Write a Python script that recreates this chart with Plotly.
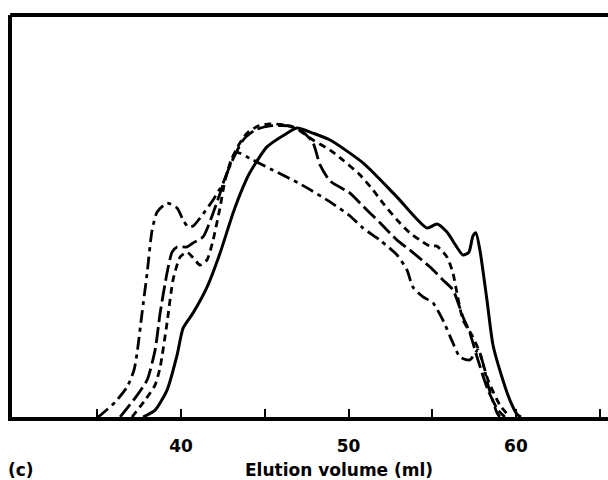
import plotly.graph_objects as go

# Elution profiles: elution volume (ml) vs. relative detector response
vol_solid = [37.73, 38.45, 39.16, 39.76, 40.12, 40.72, 41.55, 42.33, 43.10, 43.70, 44.12, 45.13,
             46.33, 46.93, 47.88, 48.90, 50.87, 52.90, 54.69, 55.28, 55.88, 56.84, 57.19, 57.43,
             57.61, 57.85, 58.27, 58.63, 59.22, 59.64, 60.06, 60.3]
resp_solid = [0, 1.7, 6.7, 15.4, 22.1, 25.9, 32.3, 40.8, 50.7, 57.2, 60.9, 67.2,
              70.6, 71.9, 70.6, 68.9, 63.2, 54.7, 47.0, 48.0, 46.0, 40.3, 41.0, 45.0,
              45.8, 41.5, 29.1, 17.9, 9.2, 4.2, 0.7, 0]

vol_dash = [37.07, 37.85, 38.45, 38.75, 39.16, 39.52, 39.94, 40.36, 40.72, 41.13, 41.55, 41.91,
            42.33, 42.63, 42.99, 43.52, 43.94, 44.6, 45.31, 46.21, 46.93, 47.88, 48.90, 49.67,
            50.69, 51.46, 52.06, 52.90, 53.67, 54.27, 54.87, 55.28, 55.88, 56.24, 56.48, 56.84,
            57.43, 57.85, 58.33, 59.04, 59.64]
resp_dash = [0, 4.2, 8.0, 12.4, 23.4, 34.1, 39.8, 41.0, 39.6, 37.8, 39.1, 44.0,
             52.2, 59.0, 63.9, 68.2, 70.6, 72.4, 72.9, 72.6, 71.6, 68.9, 66.4, 63.9,
             60.2, 56.5, 53.2, 49.0, 45.8, 44.0, 42.5, 42.5, 39.8, 35.8, 30.8, 24.1,
             19.9, 15.9, 9.2, 3.0, 0]

vol_longdash = [36.36, 37.25, 37.97, 38.45, 38.75, 39.16, 39.46, 39.76, 40.36, 40.72, 41.31, 41.91,
                42.33, 42.81, 43.22, 43.70, 44.42, 45.31, 46.51, 47.22, 47.88, 48.30, 48.90, 50.09,
                50.69, 51.88, 52.90, 53.67, 54.87, 55.64, 56.24, 56.84, 57.25, 57.73, 58.33, 58.93,
                59.34]
resp_longdash = [0, 4.7, 9.2, 16.7, 25.9, 35.8, 41.0, 42.3, 42.3, 43.3, 44.8, 50.7,
                 55.7, 61.4, 65.2, 68.9, 71.4, 72.4, 72.4, 71.1, 68.2, 62.7, 58.7, 55.7,
                 53.2, 48.3, 44.0, 41.5, 37.3, 34.1, 31.6, 24.9, 20.9, 14.2, 6.7, 1.7,
                 0]

vol_dashdot = [35.04, 35.34, 36.06, 36.78, 37.19, 37.37, 37.67, 37.97, 38.27, 38.57, 39.16, 39.76,
               40.12, 40.42, 40.72, 41.13, 41.91, 42.51, 43.04, 43.28, 44.30, 45.49, 47.10, 48.90,
               50.09, 50.87, 51.88, 52.90, 53.49, 53.85, 54.45, 55.04, 55.64, 56.24, 56.66, 57.25,
               57.73, 58.03, 58.33, 58.87, 59.04]
resp_dashdot = [0, 1.0, 3.7, 7.5, 11.7, 15.9, 25.9, 35.8, 46.5, 51.0, 53.2, 52.0,
                49.0, 47.3, 47.5, 49.5, 54.0, 58.2, 63.9, 65.9, 63.9, 61.4, 58.0, 53.5,
                50.0, 47.0, 44.0, 40.3, 36.6, 32.3, 29.9, 28.4, 24.1, 18.4, 14.9, 14.2,
                16.7, 13.4, 8.0, 1.0, 0]

tick_vals = [35, 40, 45, 50, 55, 60, 65]
tick_text = ["", "40", "", "50", "", "60", ""]

x_title = "Elution volume (ml)"
panel_label = "(c)"

label_font = dict(family="DejaVu Sans", size=17, color="black", weight="bold")

fig = go.Figure()

traces = [
    (vol_dashdot, resp_dashdot, "13px,5px,4px,5px", 2.8),
    (vol_longdash, resp_longdash, "16px,5px", 2.8),
    (vol_dash, resp_dash, "7px,5px", 2.8),
    (vol_solid, resp_solid, "solid", 3.0),
]
for xs, ys, dash, w in traces:
    fig.add_trace(go.Scatter(
        x=xs, y=ys, mode="lines",
        line=dict(color="black", width=w, dash=dash, shape="spline", smoothing=0.6),
        showlegend=False, hoverinfo="skip",
    ))

fig.update_layout(
    width=608, height=480,
    margin=dict(l=12, r=0, t=15, b=63),
    paper_bgcolor="white", plot_bgcolor="white",
    font=label_font,
    xaxis=dict(
        range=[29.9, 65.5], showgrid=False, zeroline=False,
        showline=True, linecolor="black", linewidth=4,
        tickmode="array", tickvals=tick_vals, ticktext=tick_text,
        ticks="inside", ticklen=8, tickwidth=2, tickcolor="black",
        ticklabelstandoff=11,
        tickfont=label_font,
    ),
    yaxis=dict(
        range=[0, 100], showgrid=False, zeroline=False,
        showline=True, linecolor="black", linewidth=4,
        showticklabels=False, ticks="",
    ),
    shapes=[dict(type="line", xref="paper", yref="paper", x0=-0.003, x1=1, y0=1, y1=1,
                 line=dict(color="black", width=4))],
    annotations=[
        dict(text=x_title, xref="paper", yref="paper", x=(339 - 12) / 596, y=-53 / 402,
             showarrow=False, xanchor="center", yanchor="middle", font=label_font),
        dict(text=panel_label, xref="paper", yref="paper", x=(6 - 12) / 596, y=-53 / 402,
             showarrow=False, xanchor="left", yanchor="middle", font=label_font),
    ],
)

fig.write_html("out.html")
